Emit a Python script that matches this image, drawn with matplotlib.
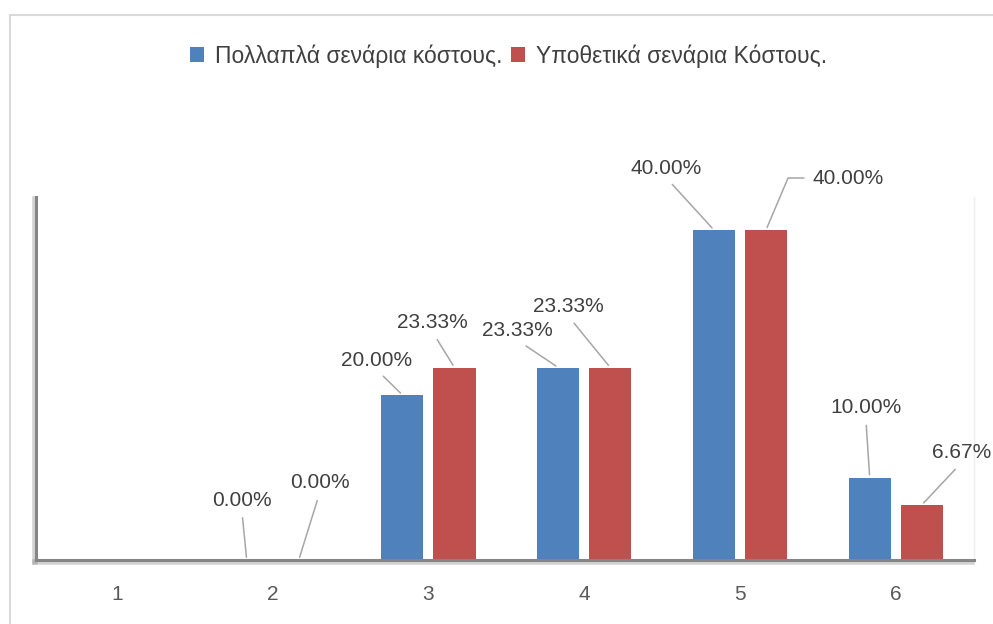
import numpy as np
import matplotlib
matplotlib.use('Agg')
import matplotlib.pyplot as plt
import matplotlib.patheffects as pe
from matplotlib.patches import Rectangle

plt.rcParams['font.family'] = ['Liberation Sans', 'DejaVu Sans']

# δεδομένα
categories = ['1', '2', '3', '4', '5', '6']
series_names = ['Πολλαπλά σενάρια κόστους.', 'Υποθετικά σενάρια Κόστους.']
multi = [np.nan, 0.00, 20.00, 23.33, 40.00, 10.00]
hypo = [np.nan, 0.00, 23.33, 23.33, 40.00, 6.67]

# θέση ετικετών (offset σε pixels από την κορυφή κάθε στήλης)
multi_offsets = [None, (-5, 60), (-26, 35), (-41, 37), (-48, 62), (-4, 70)]
hypo_offsets = [None, (21, 77), (-22, 45), (-42, 61), (82, 52), (40, 52)]

blue = '#4F81BD'
red = '#C0504D'
label_color = '#404040'

fig = plt.figure(figsize=(9.93, 6.24), dpi=100)
ax = fig.add_axes([36 / 993, 64 / 624, 937.6 / 993, 363 / 624])

x = np.arange(1, len(categories) + 1)
w = 0.27
off = 0.167
b1 = ax.bar(x - off, np.nan_to_num(multi), w, color=blue, linewidth=0)
b2 = ax.bar(x + off, np.nan_to_num(hypo), w, color=red, linewidth=0)

ax.set_xlim(0.48, 6.5)
ax.set_ylim(0, 44)
ax.set_xticks(x)
ax.set_xticklabels(categories)
ax.set_yticks([])
ax.tick_params(axis='x', length=0, pad=18, labelsize=15, labelcolor='#595959')

# άξονες με σκιά
for side in ['left', 'bottom']:
    sp = ax.spines[side]
    sp.set_color('#858585')
    sp.set_linewidth(2.2)
    sp.set_path_effects([pe.SimpleLineShadow(offset=(-1, -1.5), shadow_color='gray',
                                             alpha=0.35, linewidth=4), pe.Normal()])
ax.spines['top'].set_visible(False)
ax.spines['right'].set_color('#eeeeee')
ax.spines['right'].set_linewidth(1)


def add_labels(xs, vals, offsets, elbow=None):
    for i, (xi, v, o) in enumerate(zip(xs, vals, offsets)):
        if o is None or np.isnan(v):
            continue
        props = dict(arrowstyle='-', color='#a6a6a6', lw=1.1, relpos=(0.5, 0), shrinkA=4)
        if elbow is not None and i == elbow:
            props.update(relpos=(0, 0.5), connectionstyle='angle,angleA=180,angleB=67,rad=0')
        ax.annotate(f'{v:.2f}%', xy=(xi, v), xytext=o, textcoords='offset pixels',
                    ha='center', va='center', fontsize=15, color=label_color,
                    arrowprops=props, annotation_clip=False)


add_labels(x - off, multi, multi_offsets)
add_labels(x + off, hypo, hypo_offsets, elbow=4)

fig.legend([b1, b2], series_names, loc='center', bbox_to_anchor=(508.5 / 993, 1 - 56 / 624),
           ncol=2, frameon=False, fontsize=16.5, labelcolor=label_color,
           handlelength=0.62, handleheight=0.62, handletextpad=0.5, columnspacing=0.35)

# περίγραμμα γραφήματος
fig.add_artist(Rectangle((9.5 / 993, -0.1), 1.2, 1.1 - 15 / 624, transform=fig.transFigure,
                         fill=False, edgecolor='#d9d9d9', linewidth=1.5))

fig.savefig('out.png', dpi=100)
